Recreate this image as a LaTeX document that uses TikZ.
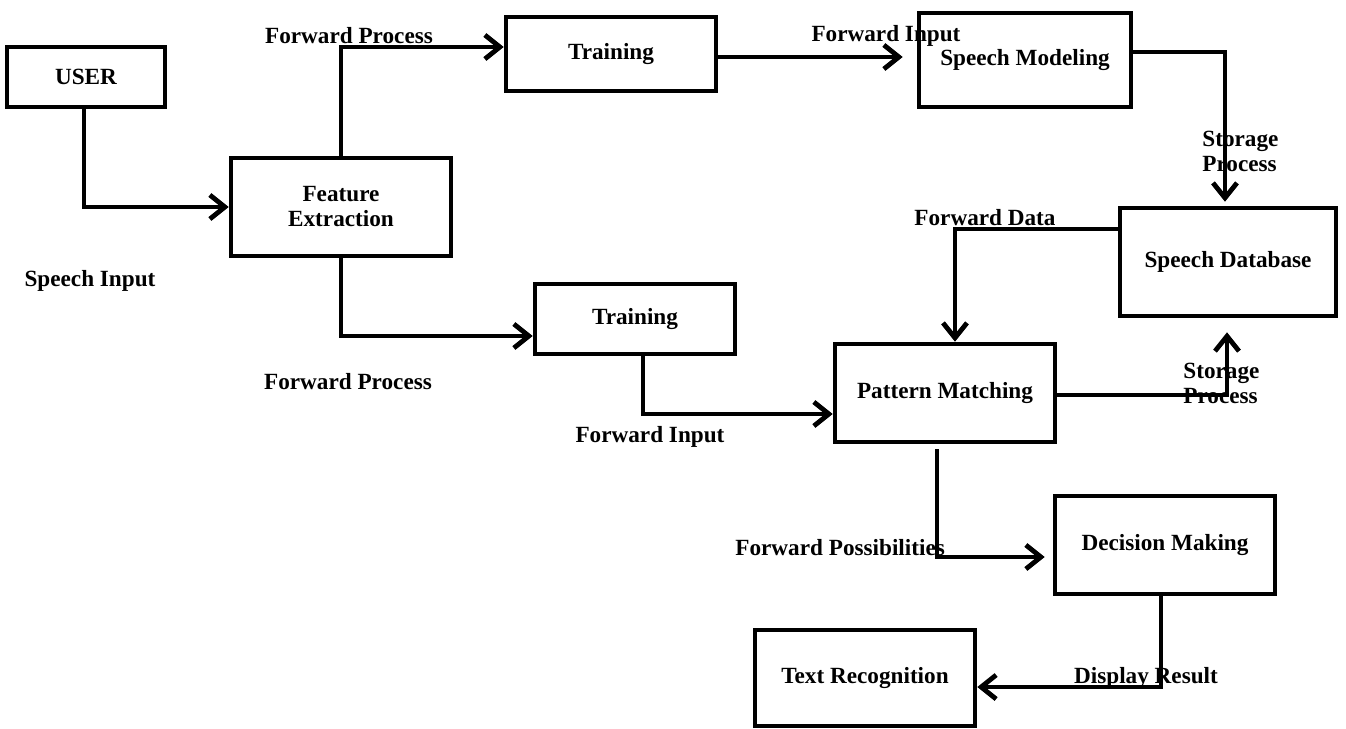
\documentclass[tikz,border=0pt]{standalone}
\usepackage{fontspec}
\setmainfont{Liberation Serif}
\usetikzlibrary{arrows.meta}
\begin{document}
\begin{tikzpicture}[x=0.5pt,y=-0.5pt,
  font=\fontsize{11.6}{12.5}\selectfont\bfseries,
  block/.style={draw,line width=2.3pt,align=center,inner sep=2pt},
  flow/.style={line width=2.4pt,-{Straight Barb[length=7.5pt,width=12pt]}},
  lbl/.style={inner sep=0pt,align=left}]
\useasboundingbox (0,0) rectangle (1346,729);
% boxes
\node[block,minimum width=79pt,minimum height=30pt] (user) at (86,77) {USER};
\node[block,minimum width=110pt,minimum height=49pt] (feat) at (341,207) {Feature\\Extraction};
\node[block,minimum width=105pt,minimum height=37pt] (trainA) at (611,54) {Training};
\node[block,minimum width=106pt,minimum height=47pt] (model) at (1025,60) {Speech Modeling};
\node[block,minimum width=108pt,minimum height=54pt] (db) at (1228,262) {Speech Database};
\node[block,minimum width=100pt,minimum height=35pt] (trainB) at (635,319) {Training};
\node[block,minimum width=110pt,minimum height=49pt] (match) at (945,393) {Pattern Matching};
\node[block,minimum width=110pt,minimum height=49pt] (decide) at (1165,545) {Decision Making};
\node[block,minimum width=110pt,minimum height=48pt] (textrec) at (865,678) {Text Recognition};
% labels
\node[lbl] (lInput) at (90,281) {Speech Input};
\node[lbl] (lFwdA) at (349,36) {Forward Process};
\node[lbl] (lInA) at (886,36) {Forward Input};
\node[lbl,anchor=west] (lStoreA) at (1202,151) {Storage\\Process};
\node[lbl] (lData) at (985,218) {Forward Data};
\node[lbl,anchor=west] (lStoreB) at (1183,383) {Storage\\Process};
\node[lbl] (lFwdB) at (348,382) {Forward Process};
\node[lbl] (lInB) at (650,437) {Forward Input};
\node[lbl,anchor=west] (lPoss) at (735,548) {Forward Possibilities};
\node[lbl] (lShow) at (1146,678) {Display Result};
% connectors
\draw[flow] ([xshift=-1pt]user.south) |- (feat.west);
\draw[flow] (feat.north) |- ([yshift=3.5pt]trainA.west);
\draw[flow,shorten >=7pt] ([yshift=-1.5pt]trainA.east) -- ([yshift=-1.5pt]trainA.east -| model.west);
\draw[flow,shorten >=2pt] ([yshift=4pt]model.east) -| ([xshift=-1.5pt]db.north);
\draw[flow] ([yshift=16.5pt]db.west) -| ([xshift=5pt]match.north);
\draw[flow,shorten >=7pt] ([yshift=-1pt]match.east) -| ([xshift=-0.5pt]db.south);
\draw[flow] (feat.south) |- ([yshift=-8.5pt]trainB.west);
\draw[flow] ([xshift=4pt]trainB.south) |- ([yshift=-10.5pt]match.west);
\draw[flow,shorten <=2.5pt,shorten >=4pt] ([xshift=-4pt]match.south) |- ([yshift=-6pt]decide.west);
\draw[flow] ([xshift=-2pt]decide.south) |- ([yshift=-4.5pt]textrec.east);
\end{tikzpicture}
\end{document}
